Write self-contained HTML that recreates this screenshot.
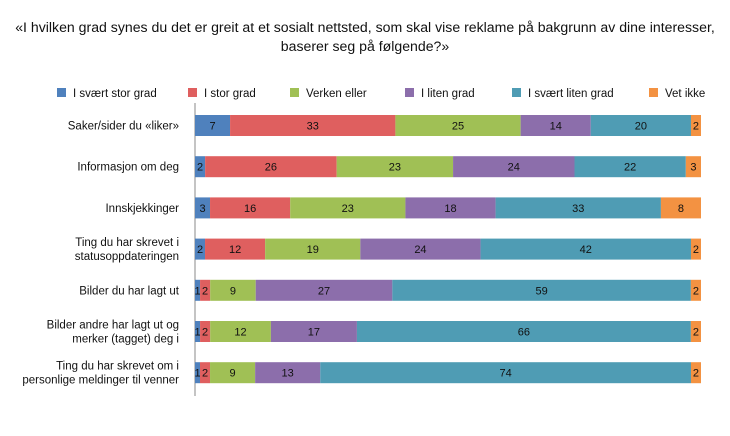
<!DOCTYPE html>
<html><head><meta charset="utf-8"><style>
body{margin:0;background:#fff;font-family:"Liberation Sans",sans-serif;}
svg text{font-family:"Liberation Sans",sans-serif;fill:#111;}
</style></head><body>
<svg width="730" height="431">
<text x="365" y="32" font-size="14.1" text-anchor="middle">«I hvilken grad synes du det er greit at et sosialt nettsted, som skal vise reklame på bakgrunn av dine interesser,</text>
<text x="365" y="51" font-size="14.1" text-anchor="middle">baserer seg på følgende?»</text>
<g id="legend"></g>
<line x1="195" y1="103" x2="195" y2="396" stroke="#888" stroke-width="1"/>
<g id="bars"></g>
<g id="cats"></g>
</svg>
<script>
const series=["I svært stor grad","I stor grad","Verken eller","I liten grad","I svært liten grad","Vet ikke"];
const colors=["#4f81bd","#df5f5f","#a0c055","#8c6eab","#4f9cb4","#f39242"];
const categories=[["Saker/sider du «liker»"],["Informasjon om deg"],["Innskjekkinger"],["Ting du har skrevet i","statusoppdateringen"],["Bilder du har lagt ut"],["Bilder andre har lagt ut og","merker (tagget) deg i"],["Ting du har skrevet om i","personlige meldinger til venner"]];
const v0=[7,2,3,2,1,1,1];
const v1=[33,26,16,12,2,2,2];
const v2=[25,23,23,19,9,12,9];
const v3=[14,24,18,24,27,17,13];
const v4=[20,22,33,42,59,66,74];
const v5=[2,3,8,2,2,2,2];
const values=[v0,v1,v2,v3,v4,v5];
const NS="http://www.w3.org/2000/svg";
const x0=195,x1=701,yTop=115,step=41.2,bh=21;
function mk(t,a,p){const e=document.createElementNS(NS,t);for(const k in a)e.setAttribute(k,a[k]);p.appendChild(e);return e;}
const lg=document.getElementById('legend');
const lx=[57,188,290,405,512,649];
series.forEach((s,i)=>{
 const r=mk('rect',{x:lx[i],y:88,width:9,height:9,fill:colors[i]},lg);
 
 
 const t=mk('text',{x:lx[i]+16,y:97,'font-size':11.5},lg);t.textContent=s;
 
 
});
const bg=document.getElementById('bars'),cg=document.getElementById('cats');
categories.forEach((c,ci)=>{
 const y=yTop+ci*step;
 let tot=0;values.forEach(v=>tot+=v[ci]);
 const sx=v=>v/tot*(x1-x0);
 let x=x0;
 values.forEach((v,si)=>{
  const w=sx(v[ci]);
  const r=mk('rect',{x:x,y:y,width:w,height:bh,fill:colors[si]},bg);
  
  
  const t=mk('text',{x:x+w/2,y:y+bh/2+4,'font-size':11,'text-anchor':'middle'},bg);
  t.textContent=v[ci];
  
  
  x+=w;
 });
 const cy=y+bh/2+4;
 c.forEach((l,li)=>{
  const t=mk('text',{x:179,y:cy+(li-(c.length-1)/2)*14,'font-size':11.5,'text-anchor':'end'},cg);
  t.textContent=l;
  
  
 });
});
</script>
</body></html>
